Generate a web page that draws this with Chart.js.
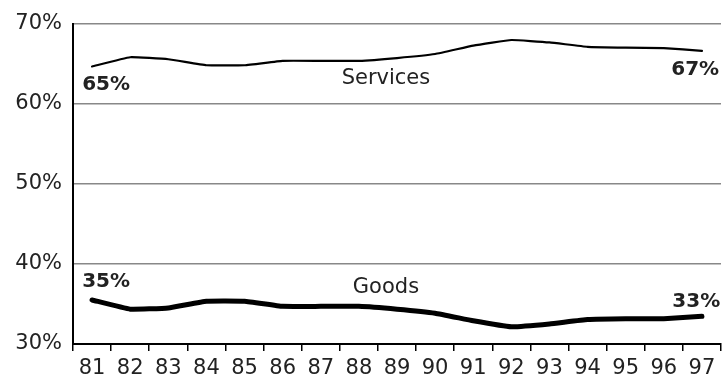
<!DOCTYPE html>
<html>
<head>
<meta charset="utf-8">
<script src="https://cdn.jsdelivr.net/npm/chart.js@4"></script>
<style>
  html, body { margin: 0; padding: 0; background: #fff; }
  #wrap { width: 728px; height: 377px; }
</style>
</head>
<body>
<div id="wrap"><canvas id="chart" width="728" height="377"></canvas></div>
<script>
// years and shares of employment (%)
const years = ['81','82','83','84','85','86','87','88','89','90','91','92','93','94','95','96','97'];
const services = [64.65, 65.8, 65.55, 64.8, 64.8, 65.35, 65.35, 65.35, 65.7, 66.2, 67.25, 67.95, 67.65, 67.1, 67.0, 66.95, 66.6];
const goods = [35.5, 34.35, 34.5, 35.35, 35.35, 34.7, 34.7, 34.7, 34.35, 33.85, 32.9, 32.15, 32.5, 33.05, 33.15, 33.15, 33.45];
const yTicks = [30, 40, 50, 60, 70];

const FONT = '"DejaVu Sans", "Liberation Sans", Arial, sans-serif';

// text labels placed in data space (category index, value)
const notes = [
  { text: 'Services', x: 7.71, y: 63.2, align: 'center', bold: false },
  { text: 'Goods', x: 7.71, y: 37.0, align: 'center', bold: false },
  { text: '65%', x: -0.26, y: 62.35, align: 'left', bold: true },
  { text: '67%', x: 16.45, y: 64.2, align: 'right', bold: true },
  { text: '35%', x: -0.26, y: 37.8, align: 'left', bold: true },
  { text: '33%', x: 16.48, y: 35.3, align: 'right', bold: true }
];

const notePlugin = {
  id: 'notes',
  afterDatasetsDraw(chart) {
    const ctx = chart.ctx;
    const xs = chart.scales.x, ys = chart.scales.y;
    const step = xs.getPixelForValue(1) - xs.getPixelForValue(0);
    ctx.save();
    ctx.fillStyle = '#222';
    ctx.textBaseline = 'middle';
    notes.forEach(n => {
      ctx.font = (n.bold ? 'bold 20px ' : '21px ') + FONT;
      ctx.textAlign = n.align;
      const px = xs.getPixelForValue(0) + n.x * step;
      ctx.fillText(n.text, px, ys.getPixelForValue(n.y));
    });
    ctx.restore();
  }
};

new Chart(document.getElementById('chart'), {
  type: 'line',
  data: {
    labels: years,
    datasets: [
      { label: 'Services', data: services, borderColor: '#000', borderWidth: 2.2, pointRadius: 0, tension: 0.1, borderCapStyle: 'round' },
      { label: 'Goods', data: goods, borderColor: '#000', borderWidth: 5, pointRadius: 0, tension: 0.1, borderCapStyle: 'round' }
    ]
  },
  options: {
    responsive: false,
    animation: false,
    layout: { padding: { top: 20, right: 7, left: 0, bottom: 0 } },
    plugins: { legend: { display: false }, tooltip: { enabled: false } },
    scales: {
      x: {
        offset: true,
        afterFit: s => { s.height = 33; },
        grid: { offset: true, drawOnChartArea: false, drawTicks: true, tickLength: 7, color: '#000', lineWidth: 1.5 },
        border: { color: '#000', width: 2 },
        ticks: { color: '#222', padding: 5, maxRotation: 0, autoSkip: false, font: { family: FONT, size: 21 } }
      },
      y: {
        min: 30, max: 70,
        afterFit: s => { s.width = 73; },
        afterBuildTicks: s => { s.ticks = yTicks.map(v => ({ value: v })); },
        grid: { color: '#888', lineWidth: 1.5, drawTicks: false },
        border: { color: '#000', width: 2 },
        ticks: { color: '#222', padding: 11, font: { family: FONT, size: 21 }, callback: v => v + '%' }
      }
    }
  },
  plugins: [notePlugin]
});
</script>
</body>
</html>
